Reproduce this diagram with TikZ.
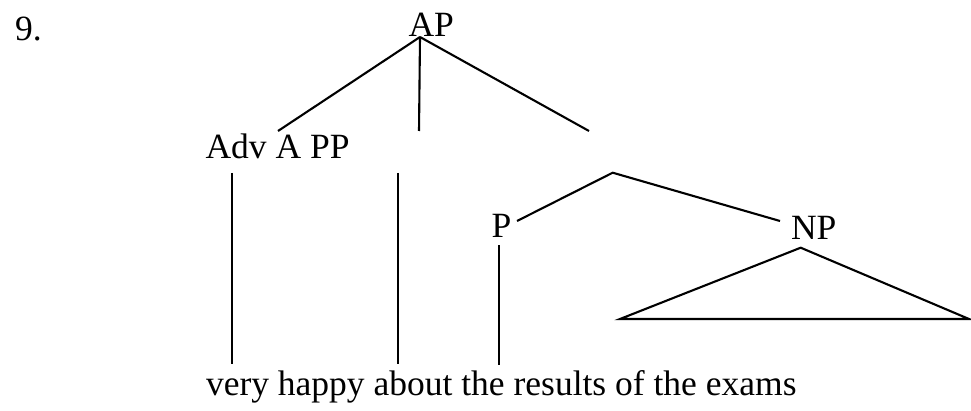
\documentclass[tikz,border=0pt]{standalone}
\usepackage{fontspec}
\setmainfont{Liberation Serif}
\begin{document}
\begin{tikzpicture}[x=1pt,y=1pt,
  lbl/.style={inner sep=0pt,outer sep=0pt,anchor=base west,font=\fontsize{35.5}{42}\selectfont},
  branch/.style={line width=2.1pt,line cap=butt,black}]
\useasboundingbox (0,0) rectangle (971,410);
% labels
\node[lbl] (num) at (15,369.5) {9.};
\node[lbl] (ap) at (408.5,373) {AP};
\node[lbl] (adv) at (205.5,251) {Adv A PP};
\node[lbl] (p) at (491.5,172) {P};
\node[lbl] (np) at (791,171) {NP};
\node[lbl] (sent) at (206,15) {very happy about the results of the exams};
% branch points
\coordinate (apx) at (420,373);
\coordinate (advtop) at (278,279);
\coordinate (atop) at (419,279);
\coordinate (pptop) at (589,279);
\coordinate (advbot) at (232,237);
\coordinate (abot) at (398,237);
\coordinate (pbot) at (499,165);
\coordinate (veryw) at (232,46);
\coordinate (happyw) at (398,46);
\coordinate (aboutw) at (499,45);
\coordinate (ppx) at (612.7,237.3);
\coordinate (pend) at (517,189);
\coordinate (npend) at (780,189);
\coordinate (npx) at (800.7,162.3);
\coordinate (tl) at (620,91);
\coordinate (tr) at (969,91);
% connectors
\draw[branch] (apx) -- (advtop);
\draw[branch] (apx) -- (atop);
\draw[branch] (apx) -- (pptop);
\draw[branch] (advbot) -- (veryw);
\draw[branch] (abot) -- (happyw);
\draw[branch] (pbot) -- (aboutw);
\draw[branch] (pend) -- (ppx) -- (npend);
\draw[branch,line join=miter] (npx) -- (tl) -- (tr) -- cycle;
\end{tikzpicture}
\end{document}
